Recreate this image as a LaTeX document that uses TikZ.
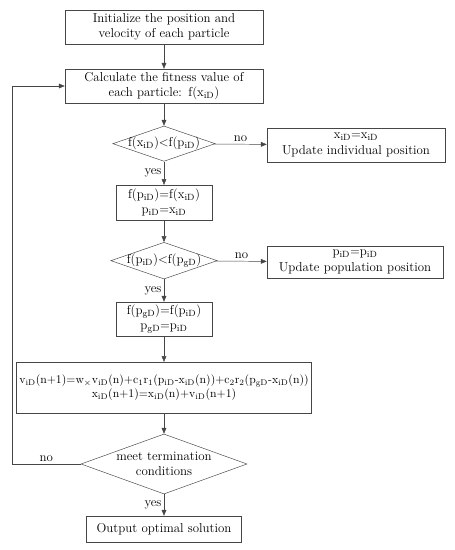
\documentclass[tikz,border=0pt]{standalone}
\usepackage{tikz}
\usetikzlibrary{shapes.geometric,arrows.meta,positioning}
\usepackage{xcolor}
\definecolor{flowgray}{RGB}{70,70,70}
\newcommand{\idx}[2]{#1\textsubscript{#2}}

\begin{document}
\begin{tikzpicture}[
  font=\fontsize{11}{13}\selectfont,
  proc/.style={draw=flowgray,rectangle,align=center,inner sep=2pt},
  decision/.style={draw=flowgray,diamond,align=center,aspect=2.9,inner ysep=0pt},
  arr/.style={-{Triangle[length=5pt,width=4pt]},draw=flowgray},
  lbl/.style={font=\fontsize{11}{13}\selectfont,inner sep=2pt}
]
  \useasboundingbox (0,0) rectangle (13.65,-16.5);
  % Main column
  \node[proc,minimum width=5.94cm,minimum height=1.02cm] (init) at (4.92,-0.81)
    {Initialize the position and\\velocity of each particle};
  \node[proc,minimum width=5.94cm,minimum height=1.02cm] (fit) at (4.92,-2.58)
    {Calculate the fitness value of\\each particle:\enspace f(\idx{x}{iD})};
  \node[decision,minimum width=2.85cm,minimum height=0.99cm,inner xsep=-3pt] (dec1) at (4.92,-4.31)
    {f(\idx{x}{iD})<f(\idx{p}{iD})};
  \node[proc,minimum width=2.88cm,minimum height=1.05cm] (pbest) at (4.92,-6.08)
    {f(\idx{p}{iD})=f(\idx{x}{iD})\\\idx{p}{iD}=\idx{x}{iD}};
  \node[decision,minimum width=2.85cm,minimum height=1.05cm,inner xsep=-3pt] (dec2) at (4.92,-7.82)
    {f(\idx{p}{iD})<f(\idx{p}{gD})};
  \node[proc,minimum width=2.88cm,minimum height=1.02cm] (gbest) at (4.92,-9.57)
    {f(\idx{p}{gD})=f(\idx{p}{iD})\\\idx{p}{gD}=\idx{p}{iD}};
  \node[proc,minimum width=8.85cm,minimum height=1.53cm,font=\fontsize{10}{12.5}\selectfont] (update) at (4.92,-11.63)
    {\idx{v}{iD}(n+1)=w\textsubscript{$\times$}\idx{v}{iD}(n)+\idx{c}{1}\idx{r}{1}(\idx{p}{iD}-\idx{x}{iD}(n))+\idx{c}{2}\idx{r}{2}(\idx{p}{gD}-\idx{x}{iD}(n))\\
     \idx{x}{iD}(n+1)=\idx{x}{iD}(n)+\idx{v}{iD}(n+1)};
  \node[decision,minimum width=4.98cm,minimum height=1.8cm,inner xsep=-6pt] (dec3) at (4.92,-13.92)
    {meet termination\\conditions};
  \node[proc,minimum width=4.65cm,minimum height=0.78cm] (out) at (4.92,-15.87)
    {Output optimal solution};
  % Side boxes
  \node[proc,minimum width=5.34cm,minimum height=1.02cm] (keepx) at (10.68,-4.35)
    {\idx{x}{iD}=\idx{x}{iD}\\Update individual position};
  \node[proc,minimum width=5.28cm,minimum height=0.96cm] (keepp) at (10.65,-7.86)
    {\idx{p}{iD}=\idx{p}{iD}\\Update population position};
  \coordinate (loop) at (0.36,-13.92);
  % Flows
  \draw[arr] (init) -- (fit);
  \draw[arr] (fit) -- (dec1);
  \draw[arr] (dec1) -- node[lbl,above]{no} (keepx);
  \draw[arr] (dec1) -- node[lbl,left]{yes} (pbest);
  \draw[arr] (pbest) -- (dec2);
  \draw[arr] (dec2) -- node[lbl,above]{no} (keepp);
  \draw[arr] (dec2) -- node[lbl,left]{yes} (gbest);
  \draw[arr] (gbest) -- (update);
  \draw[arr] (update) -- (dec3);
  \draw[arr] (dec3) -- node[lbl,left]{yes} (out);
  \draw[arr] (dec3.west) -- node[lbl,above]{no} (loop) |- (fit.west);
\end{tikzpicture}
\end{document}
